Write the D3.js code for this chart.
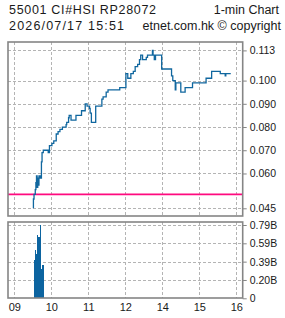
<!DOCTYPE html>
<html>
<head>
<meta charset="utf-8">
<script src="https://cdn.jsdelivr.net/npm/d3@7"></script>
<style>
  body { margin: 0; background: #fff; }
  svg { display: block; }
  text { fill: #1a1a1a; font-family: "Liberation Sans", Arial, sans-serif; }
</style>
</head>
<body>
<div id="chart"></div>
<script>
// header strings
var titleLeft = "55001 CI#HSI  RP28072";
var titleRight = "1-min Chart";
var stampLeft = "2026/07/17 15:51";
var stampRight = "etnet.com.hk \u00a9 copyright";

// price (step line), one entry per change
var priceTimes = [
  "09:31", "09:31", "09:32", "09:34", "09:35", "09:36", "09:37", "09:38", "09:39", "09:40",
  "09:42", "09:44", "09:45", "09:47", "09:55", "09:57", "10:01", "10:04", "10:08", "10:11",
  "10:14", "10:18", "10:24", "10:25", "10:28", "10:29", "10:32", "10:40", "10:49", "10:55",
  "10:58", "11:02", "11:03", "11:05", "11:12", "11:19", "11:22", "11:24", "11:29", "11:32",
  "11:51", "12:00",
  "13:01", "13:04", "13:09", "13:13", "13:16", "13:20", "13:23", "13:25", "13:28", "13:34",
  "13:36", "13:44", "13:45", "13:47", "13:49", "13:50", "13:59", "14:15", "14:17", "14:21",
  "14:22", "14:30", "14:37", "14:49", "15:11", "15:20", "15:34", "15:42", "15:43", "15:51"
];
var priceValues = [
  0.045, 0.049, 0.051, 0.053, 0.056, 0.059, 0.054, 0.058, 0.055, 0.059,
  0.058, 0.065, 0.069, 0.070, 0.069, 0.072, 0.073, 0.074, 0.077, 0.078,
  0.079, 0.080, 0.081, 0.082, 0.084, 0.085, 0.083, 0.085, 0.087, 0.090,
  0.089, 0.088, 0.086, 0.082, 0.089, 0.089, 0.092, 0.093, 0.095, 0.096,
  0.097, 0.097,
  0.103, 0.101, 0.103, 0.104, 0.106, 0.107, 0.109, 0.111, 0.109, 0.110,
  0.111, 0.113, 0.111, 0.109, 0.111, 0.111, 0.105, 0.102, 0.100, 0.096,
  0.099, 0.095, 0.097, 0.099, 0.101, 0.104, 0.103, 0.102, 0.103, 0.103
];
var prevClose = 0.051;

// turnover bars (billions)
var volTimes = ["09:32", "09:34", "09:35", "09:37", "09:38", "09:40", "09:42", "09:43", "09:45"];
var volValues = [0.41, 0.52, 0.48, 0.68, 0.36, 0.66, 0.788, 0.32, 0.36];

// axes
var priceTicks = [0.045, 0.060, 0.070, 0.080, 0.090, 0.100, 0.113];
var volTicks = [0, 0.197, 0.394, 0.591, 0.788];
var hourTicks = ["09:00", "10:00", "11:00", "12:00", "14:00", "15:00", "16:00"];
var hourLabels = ["09", "10", "11", "12", "14", "15", "16"];

var W = 285, H = 318;
var box = { left: 8, right: 242.7, top: 42, bottom: 216 };
var vbox = { left: 8, right: 242.7, top: 222, bottom: 298 };

// minutes of trading since 09:00, lunch hour removed
function toMin(s) {
  var p = s.split(":");
  var m = (+p[0] - 9) * 60 + (+p[1]);
  return m >= 240 ? m - 60 : m;
}

var x = d3.scaleLinear().domain([0, 360]).range([14.3, 236.3]);
var y = d3.scaleLinear().domain([0.045, 0.113]).range([208.3, 50.4]);
var yv = d3.scaleLinear().domain([0, 0.788]).range([298.3, 225]);

var svg = d3.select("#chart").append("svg").attr("width", W).attr("height", H);

// header
svg.append("text").attr("x", 9).attr("y", 13.5).attr("font-size", 12.5)
  .attr("textLength", 147).attr("lengthAdjust", "spacing").text(titleLeft);
svg.append("text").attr("x", 279).attr("y", 13.5).attr("font-size", 12.5)
  .attr("text-anchor", "end").text(titleRight);
svg.append("text").attr("x", 9).attr("y", 30).attr("font-size", 12.5)
  .attr("textLength", 115).attr("lengthAdjust", "spacing").text(stampLeft);
svg.append("text").attr("x", 281).attr("y", 30).attr("font-size", 12.5)
  .attr("text-anchor", "end").text(stampRight);

function applyGrid(sel) {
  return sel.attr("stroke", "#b4b4b4").attr("stroke-width", 1).attr("stroke-dasharray", "3,2");
}

// gridlines, price panel
applyGrid(svg.append("g").selectAll("line").data(priceTicks).enter().append("line")
  .attr("x1", box.left).attr("x2", box.right)
  .attr("y1", function(d) { return Math.round(y(d)) + 0.5; })
  .attr("y2", function(d) { return Math.round(y(d)) + 0.5; }));
applyGrid(svg.append("g").selectAll("line").data(hourTicks).enter().append("line")
  .attr("x1", function(d) { return Math.round(x(toMin(d))) + 0.5; })
  .attr("x2", function(d) { return Math.round(x(toMin(d))) + 0.5; })
  .attr("y1", box.top).attr("y2", box.bottom));

// gridlines, turnover panel
applyGrid(svg.append("g").selectAll("line").data(volTicks.slice(1)).enter().append("line")
  .attr("x1", vbox.left).attr("x2", vbox.right)
  .attr("y1", function(d) { return Math.round(yv(d)) + 0.5; })
  .attr("y2", function(d) { return Math.round(yv(d)) + 0.5; }));
applyGrid(svg.append("g").selectAll("line").data(hourTicks).enter().append("line")
  .attr("x1", function(d) { return Math.round(x(toMin(d))) + 0.5; })
  .attr("x2", function(d) { return Math.round(x(toMin(d))) + 0.5; })
  .attr("y1", vbox.top).attr("y2", vbox.bottom));

// previous close
svg.append("line")
  .attr("x1", box.left).attr("x2", box.right)
  .attr("y1", y(prevClose)).attr("y2", y(prevClose))
  .attr("stroke", "#ff0a7f").attr("stroke-width", 1.6);

// price line
var pts = priceTimes.map(function(t, i) { return { m: toMin(t), v: priceValues[i] }; });
var line = d3.line()
  .x(function(d) { return x(d.m); })
  .y(function(d) { return y(d.v); })
  .curve(d3.curveStepAfter);
svg.append("path").datum(pts)
  .attr("d", line)
  .attr("fill", "none")
  .attr("stroke", "#10679f")
  .attr("stroke-width", 1.3);

// turnover bars, each one runs up to the next so they read as a block
var barX = volTimes.map(function(t) { return Math.floor(x(toMin(t))); });
svg.append("g").selectAll("rect").data(volTimes).enter().append("rect")
  .attr("x", function(d, i) { return barX[i]; })
  .attr("width", function(d, i) { return i < barX.length - 1 ? Math.max(1, barX[i + 1] - barX[i]) : 1.5; })
  .attr("y", function(d, i) { return yv(volValues[i]); })
  .attr("height", function(d, i) { return yv(0) - yv(volValues[i]); })
  .attr("fill", "#0c64a0")
  .attr("shape-rendering", "crispEdges");

// frames
[box, vbox].forEach(function(b) {
  svg.append("rect")
    .attr("x", b.left).attr("y", b.top)
    .attr("width", b.right - b.left).attr("height", b.bottom - b.top)
    .attr("fill", "none").attr("stroke", "#858585").attr("stroke-width", 1.6);
});

// right axes
function styleAxis(g) {
  g.select(".domain").remove();
  g.selectAll("line").attr("stroke", "#858585");
  g.selectAll("text").attr("font-size", 10.5).attr("font-family", "Liberation Sans, Arial, sans-serif").attr("fill", "#1a1a1a");
}

var axisPrice = d3.axisRight(y).tickValues(priceTicks).tickSize(4).tickPadding(3)
  .tickFormat(d3.format(".3f"));
svg.append("g").attr("transform", "translate(" + box.right + ",0)").call(axisPrice).call(styleAxis);

var axisVol = d3.axisRight(yv).tickValues(volTicks).tickSize(4).tickPadding(3)
  .tickFormat(function(d) { return d === 0 ? "0" : d.toFixed(2) + "B"; });
svg.append("g").attr("transform", "translate(" + vbox.right + ",0)").call(axisVol).call(styleAxis);

// hour labels
var axisTime = d3.axisBottom(x).tickValues(hourTicks.map(toMin)).tickSize(0).tickPadding(5)
  .tickFormat(function(d, i) { return hourLabels[i]; });
svg.append("g").attr("transform", "translate(0," + vbox.bottom + ")").call(axisTime)
  .call(styleAxis)
  .call(function(g) { g.selectAll("text").attr("font-size", 11); });
</script>
</body>
</html>
